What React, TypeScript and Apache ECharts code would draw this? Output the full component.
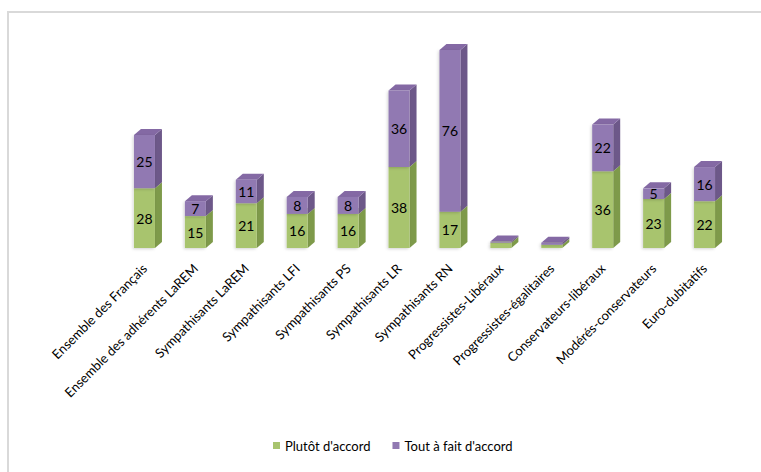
import React, { useEffect, useRef } from "react";
import * as echarts from "echarts";

const categories = [
  "Ensemble des Français",
  "Ensemble des adhérents LaREM",
  "Sympathisants LaREM",
  "Sympathisants LFI",
  "Sympathisants PS",
  "Sympathisants LR",
  "Sympathisants RN",
  "Progressistes-Libéraux",
  "Progressistes-égalitaires",
  "Conservateurs-libéraux",
  "Modérés-conservateurs",
  "Euro-dubitatifs",
];
const plutotDaccord = [28, 15, 21, 16, 16, 38, 17, 2.5, 1.5, 36, 23, 22];
const toutAFaitDaccord = [25, 7, 11, 8, 8, 36, 76, 0.5, 1, 22, 5, 16];
const seriesNames = ["Plutôt d'accord", "Tout à fait d'accord"];

const FONT = "Lato, 'Open Sans', sans-serif";

type Palette = { front: string; side: string; top: string };
const GREEN: Palette = { front: "#A8C46E", side: "#7E9A4A", top: "#BBD288" };
const PURPLE: Palette = { front: "#9179B2", side: "#6D5889", top: "#8469A4" };

function makeRender(pal: Palette) {
  return (params: any, api: any) => {
    const idx = api.value(0);
    const base = api.value(1);
    const top = api.value(2);
    const val = api.value(3);
    const pb = api.coord([idx, base]);
    const pt = api.coord([idx, top]);
    const bw = 21;
    const dx = 7;
    const dy = -6;
    const x0 = pb[0] - bw / 2;
    const x1 = x0 + bw;
    const yb = pb[1];
    const yt = pt[1];
    const children: any[] = [
      {
        type: "polygon",
        shape: {
          points: [
            [x1, yt],
            [x1 + dx, yt + dy],
            [x1 + dx, yb + dy],
            [x1, yb],
          ],
        },
        style: { fill: pal.side },
      },
      {
        type: "polygon",
        shape: {
          points: [
            [x0, yt],
            [x0 + dx, yt + dy],
            [x1 + dx, yt + dy],
            [x1, yt],
          ],
        },
        style: { fill: pal.top },
      },
      {
        type: "rect",
        shape: { x: x0, y: yt, width: bw, height: yb - yt },
        style: {
          fill: pal.front,
          shadowBlur: 3,
          shadowColor: "rgba(0,0,0,0.18)",
          shadowOffsetX: -1,
          shadowOffsetY: 1,
        },
      },
    ];
    if (val >= 3) {
      children.push({
        type: "text",
        x: (x0 + x1) / 2,
        y: (yb + yt) / 2,
        style: {
          text: String(val),
          fill: "#000",
          font: `14px ${FONT}`,
          align: "center",
          verticalAlign: "middle",
        },
      });
    }
    return { type: "group", children };
  };
}

export default function App() {
  const ref = useRef<HTMLDivElement>(null);
  useEffect(() => {
    document.body.style.margin = "0";
    if (!ref.current) return;
    const chart = echarts.init(ref.current, undefined, { renderer: "svg" });
    const greenData = plutotDaccord.map((v, i) => [i, 0, v, v]);
    const purpleData = toutAFaitDaccord.map((v, i) => [
      i,
      plutotDaccord[i],
      plutotDaccord[i] + v,
      v,
    ]);
    chart.setOption({
      animation: false,
      backgroundColor: "#ffffff",
      graphic: [
        {
          type: "rect",
          shape: { x: 8, y: 12, width: 900, height: 600 },
          style: { fill: "none", stroke: "#d9d9d9", lineWidth: 2 },
          silent: true,
        },
      ],
      grid: {
        left: 119,
        right: 31,
        top: 35,
        bottom: 224,
        containLabel: false,
        outerBoundsMode: "none",
      },
      legend: {
        left: 268,
        top: 434,
        icon: "rect",
        itemWidth: 7,
        itemHeight: 7,
        itemGap: 22,
        textStyle: { fontSize: 13, fontFamily: FONT, color: "#000" },
        data: seriesNames,
      },
      xAxis: {
        type: "category",
        data: categories,
        axisLine: { show: false },
        axisTick: { show: false },
        splitLine: { show: false },
        axisLabel: {
          rotate: 45,
          interval: 0,
          margin: 18,
          fontSize: 13,
          fontFamily: FONT,
          color: "#000",
        },
      },
      yAxis: {
        type: "value",
        min: 0,
        max: 100,
        show: false,
        splitLine: { show: false },
      },
      series: [
        {
          name: seriesNames[0],
          type: "custom",
          renderItem: makeRender(GREEN),
          itemStyle: { color: GREEN.front },
          encode: { x: 0, y: 2 },
          data: greenData,
          clip: false,
        },
        {
          name: seriesNames[1],
          type: "custom",
          renderItem: makeRender(PURPLE),
          itemStyle: { color: PURPLE.front },
          encode: { x: 0, y: 2 },
          data: purpleData,
          clip: false,
        },
      ],
    });
    return () => chart.dispose();
  }, []);
  return <div ref={ref} style={{ width: 761, height: 472 }} />;
}
